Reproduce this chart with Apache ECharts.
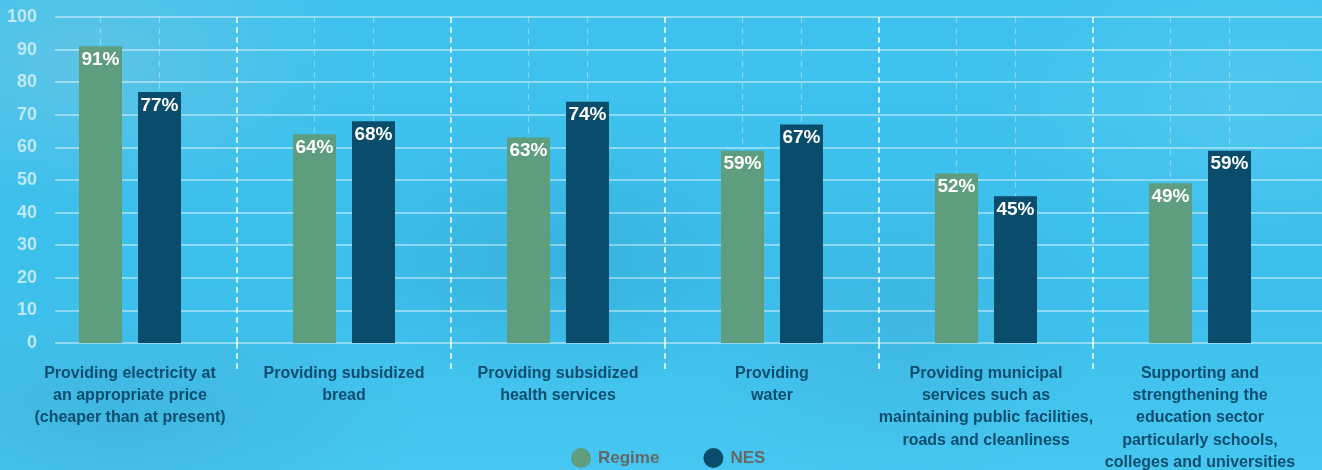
<!DOCTYPE html>
<html>
<head>
<meta charset="utf-8">
<script src="https://cdn.jsdelivr.net/npm/echarts@6/dist/echarts.min.js"></script>
<style>
  html, body { margin: 0; padding: 0; }
  body {
    width: 1322px; height: 470px; overflow: hidden;
    background-color: #41c3ee;
    background-image:
      radial-gradient(ellipse 260px 140px at 90px 60px, rgba(150,200,215,0.35), rgba(150,200,215,0) 100%),
      radial-gradient(ellipse 300px 120px at 120px 420px, rgba(60,150,190,0.3), rgba(60,150,190,0) 100%),
      radial-gradient(ellipse 220px 130px at 560px 260px, rgba(40,140,185,0.28), rgba(40,140,185,0) 100%),
      radial-gradient(ellipse 200px 160px at 900px 330px, rgba(60,150,190,0.2), rgba(60,150,190,0) 100%),
      radial-gradient(ellipse 260px 140px at 1250px 100px, rgba(120,215,245,0.3), rgba(120,215,245,0) 100%),
      linear-gradient(180deg, #3fc2ee 0%, #3dbfeb 60%, #45c7f1 100%);
  }
  #chart { width: 1322px; height: 470px; }
</style>
</head>
<body>
<div id="chart"></div>
<script>
// Survey categories (pre-wrapped for the axis)
const categories = [
  'Providing electricity at\nan appropriate price\n(cheaper than at present)',
  'Providing subsidized\nbread',
  'Providing subsidized\nhealth services',
  'Providing\nwater',
  'Providing municipal\nservices such as\nmaintaining public facilities,\nroads and cleanliness',
  'Supporting and\nstrengthening the\neducation sector\nparticularly schools,\ncolleges and universities'
];
const regimeValues = [91, 64, 63, 59, 52, 49];
const nesValues = [77, 68, 74, 67, 45, 59];
const seriesNames = ['Regime', 'NES'];
const yTicks = { min: 0, max: 100, step: 10 };

const FONT = '"Liberation Sans Narrow", "Liberation Sans", Arial, sans-serif';
const GREEN = '#5f9d7f';
const NAVY = '#0a4c6b';
const BAR_W = 43;
const BAR_GAP_PX = 16;

const chart = echarts.init(document.getElementById('chart'), null, { renderer: 'canvas' });

// faint dashed guide running up through the centre of every bar
function guideRender(params, api) {
  const top = api.coord([api.value(0), yTicks.max]);
  const bottom = api.coord([api.value(0), yTicks.min]);
  const off = (BAR_W + BAR_GAP_PX) / 2;
  const style = { stroke: 'rgba(255,255,255,0.35)', lineWidth: 1.2, lineDash: [6, 5] };
  return {
    type: 'group',
    children: [-off, off].map(function (d) {
      return {
        type: 'line',
        shape: { x1: top[0] + d, y1: top[1], x2: bottom[0] + d, y2: bottom[1] },
        style: style
      };
    })
  };
}

const boundaryLine = {
  show: true, showMinLine: false, showMaxLine: false,
  lineStyle: { color: 'rgba(255,255,255,0.9)', width: 1.6, type: [6, 4] }
};

const valueLabel = {
  show: true, position: 'insideTop', distance: 4,
  formatter: '{c}%', color: '#ffffff', fontFamily: FONT, fontWeight: 'bold', fontSize: 19
};

chart.setOption({
  animation: false,
  backgroundColor: 'transparent',
  grid: [
    { left: 23, right: 15, top: 17, bottom: 127, outerBoundsMode: 'none' },   // bars
    { left: 55, right: 0, top: 17, bottom: 127, outerBoundsMode: 'none' },    // horizontal value lines
    { left: 23, right: 15, top: 343, bottom: 100, outerBoundsMode: 'none' }   // boundary dashes below the baseline
  ],
  legend: {
    data: seriesNames,
    left: 566, top: 443,
    icon: 'circle', itemWidth: 20, itemHeight: 20, itemGap: 44,
    textStyle: { color: '#676767', fontFamily: FONT, fontWeight: 'bold', fontSize: 17, padding: [0, 0, 0, 2] }
  },
  xAxis: [
    {
      gridIndex: 0, type: 'category', data: categories,
      axisLine: { show: false }, axisTick: { show: false },
      splitLine: boundaryLine,
      axisLabel: {
        interval: 0, margin: 19,
        color: '#0d4d6e', fontFamily: FONT, fontWeight: 'bold', fontSize: 16, lineHeight: 22.4,
        align: 'center'
      }
    },
    { gridIndex: 1, type: 'value', show: false, min: 0, max: 1 },
    {
      gridIndex: 2, type: 'category', data: categories,
      axisLine: { show: false }, axisTick: { show: false }, axisLabel: { show: false },
      splitLine: boundaryLine
    }
  ],
  yAxis: [
    { gridIndex: 0, type: 'value', min: yTicks.min, max: yTicks.max, interval: yTicks.step, show: false },
    {
      gridIndex: 1, type: 'value', min: yTicks.min, max: yTicks.max, interval: yTicks.step,
      axisLine: { show: false }, axisTick: { show: false },
      splitLine: { show: true, lineStyle: { color: 'rgba(255,255,255,0.55)', width: 1.6 } },
      axisLabel: {
        margin: 18, color: 'rgba(215,242,250,0.82)',
        fontFamily: FONT, fontWeight: 'bold', fontSize: 18
      }
    },
    { gridIndex: 2, type: 'value', min: 0, max: 1, show: false }
  ],
  series: [
    {
      type: 'custom', xAxisIndex: 0, yAxisIndex: 0, z: 1, silent: true,
      renderItem: guideRender,
      data: categories.map(function (c, i) { return [i]; }),
      encode: { x: 0 }
    },
    {
      name: seriesNames[0], type: 'bar', xAxisIndex: 0, yAxisIndex: 0, z: 3,
      data: regimeValues, barWidth: BAR_W, barGap: (BAR_GAP_PX / BAR_W * 100).toFixed(1) + '%',
      itemStyle: { color: GREEN },
      label: valueLabel
    },
    {
      name: seriesNames[1], type: 'bar', xAxisIndex: 0, yAxisIndex: 0, z: 3,
      data: nesValues, barWidth: BAR_W,
      itemStyle: { color: NAVY },
      label: valueLabel
    }
  ]
});
</script>
</body>
</html>
